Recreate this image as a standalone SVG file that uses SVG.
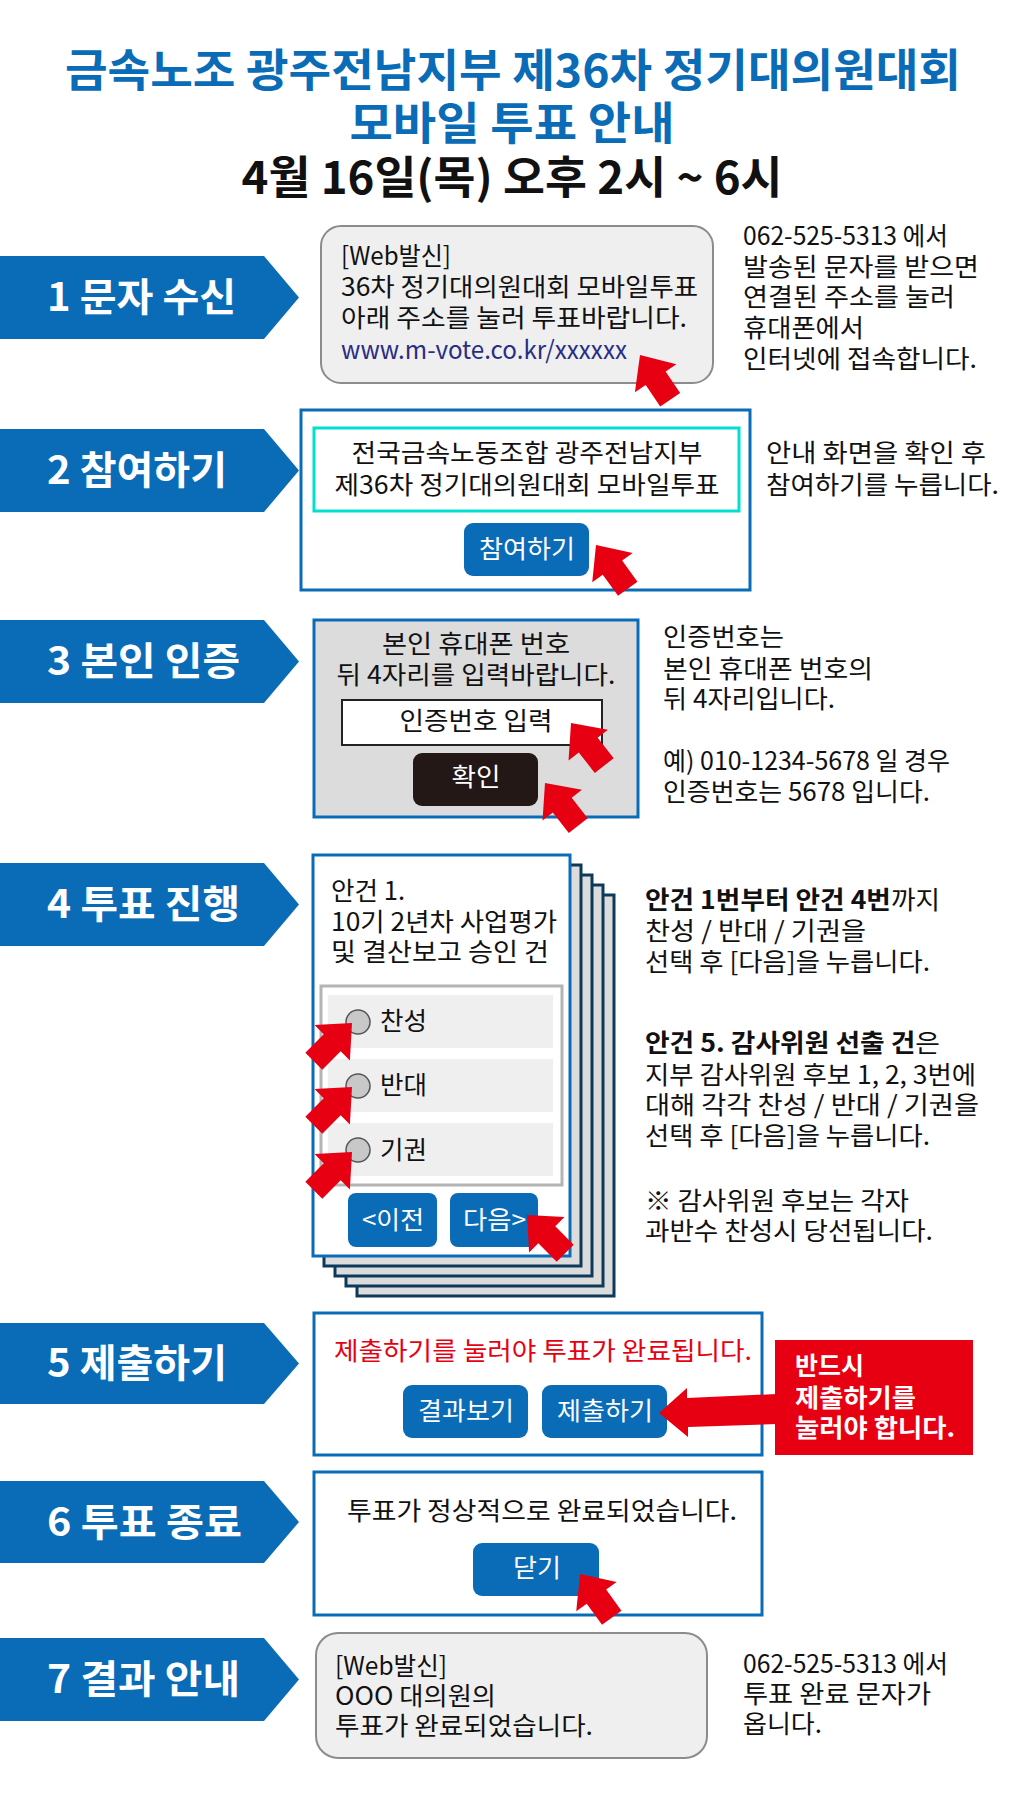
<svg xmlns="http://www.w3.org/2000/svg" width="1024" height="1805" viewBox="0 0 1024 1805">
<style>
text{font-family:"Noto Sans CJK KR","Noto Sans",sans-serif;}
.title{font-size:45px;font-weight:700;text-anchor:middle;}
.lbl{font-size:39px;font-weight:700;fill:#ffffff;}
.tab{fill:#0a6cb6;}
.b{font-size:25px;fill:#111111;}
.c{text-anchor:middle;}
.w{fill:#ffffff;}
.bold{font-weight:700;}
.frame{fill:#ffffff;stroke:#0a6cb6;stroke-width:3;}
.bubble{fill:#efefef;stroke:#8c8c8c;stroke-width:2;}
.btn{fill:#0a6cb6;}
.back{fill:#dcdcdc;stroke:#0d3a5a;stroke-width:3;}
.row{fill:#efefef;}
.radio{fill:#c8c8c8;stroke:#555555;stroke-width:1.5;}
.red{fill:#e60012;}
</style>
<defs>
<polygon id="ptr" points="0,0 25,28 12,28 12,54 -12,54 -12,28 -25,28" fill="#e60012"/>
</defs>
<rect width="1024" height="1805" fill="#ffffff"/>

<g id="title">
<text class="title" x="513" y="87" fill="#0a6cb6" textLength="896" lengthAdjust="spacingAndGlyphs">금속노조 광주전남지부 제36차 정기대의원대회</text>
<text class="title" x="512" y="140" fill="#0a6cb6" textLength="325" lengthAdjust="spacingAndGlyphs">모바일 투표 안내</text>
<text class="title" x="512" y="194" fill="#111111" textLength="541" lengthAdjust="spacingAndGlyphs">4월 16일(목) 오후 2시 ~ 6시</text>
</g>

<g id="step1">
<polygon class="tab" points="0,256 264,256 299,297.5 264,339 0,339"/>
<text class="lbl" x="47" y="311" textLength="189" lengthAdjust="spacingAndGlyphs">1 문자 수신</text>
<rect class="bubble" x="321" y="226" width="392" height="157" rx="20"/>
<text class="b" x="341" y="265" textLength="110" lengthAdjust="spacingAndGlyphs">[Web발신]</text>
<text class="b" x="341" y="296" textLength="357" lengthAdjust="spacingAndGlyphs">36차 정기대의원대회 모바일투표</text>
<text class="b" x="341" y="327" textLength="346" lengthAdjust="spacingAndGlyphs">아래 주소를 눌러 투표바랍니다.</text>
<text class="b" x="341" y="359" style="fill:#2a2d84" textLength="286" lengthAdjust="spacingAndGlyphs">www.m-vote.co.kr/xxxxxx</text>
<text class="b" x="743" y="245" textLength="205" lengthAdjust="spacingAndGlyphs">062-525-5313 에서</text>
<text class="b" x="743" y="276" textLength="236" lengthAdjust="spacingAndGlyphs">발송된 문자를 받으면</text>
<text class="b" x="743" y="306" textLength="212" lengthAdjust="spacingAndGlyphs">연결된 주소를 눌러</text>
<text class="b" x="743" y="337" textLength="121" lengthAdjust="spacingAndGlyphs">휴대폰에서</text>
<text class="b" x="743" y="368" textLength="234" lengthAdjust="spacingAndGlyphs">인터넷에 접속합니다.</text>
</g>

<g id="step2">
<polygon class="tab" points="0,429 264,429 299,470.5 264,512 0,512"/>
<text class="lbl" x="47" y="484" textLength="180" lengthAdjust="spacingAndGlyphs">2 참여하기</text>
<rect class="frame" x="301" y="410" width="449" height="180"/>
<rect x="314" y="428" width="425" height="83" fill="#ffffff" stroke="#00e0d0" stroke-width="3"/>
<text class="b c" x="527" y="462" textLength="351" lengthAdjust="spacingAndGlyphs">전국금속노동조합 광주전남지부</text>
<text class="b c" x="527" y="494" textLength="385" lengthAdjust="spacingAndGlyphs">제36차 정기대의원대회 모바일투표</text>
<rect class="btn" x="464" y="523" width="125" height="53" rx="9"/>
<text class="b c w" x="527" y="558" textLength="96" lengthAdjust="spacingAndGlyphs">참여하기</text>
<text class="b" x="766" y="462" textLength="220" lengthAdjust="spacingAndGlyphs">안내 화면을 확인 후</text>
<text class="b" x="766" y="494" textLength="233" lengthAdjust="spacingAndGlyphs">참여하기를 누릅니다.</text>
</g>

<g id="step3">
<polygon class="tab" points="0,620 264,620 299,661.5 264,703 0,703"/>
<text class="lbl" x="47" y="675" textLength="193" lengthAdjust="spacingAndGlyphs">3 본인 인증</text>
<rect x="314" y="620" width="324" height="197" fill="#dcdcdc" stroke="#0a6cb6" stroke-width="3"/>
<text class="b c" x="476" y="653" textLength="188" lengthAdjust="spacingAndGlyphs">본인 휴대폰 번호</text>
<text class="b c" x="476" y="684" textLength="279" lengthAdjust="spacingAndGlyphs">뒤 4자리를 입력바랍니다.</text>
<rect x="342" y="700" width="260" height="45" fill="#ffffff" stroke="#222222" stroke-width="2"/>
<text class="b c" x="476" y="730" textLength="153" lengthAdjust="spacingAndGlyphs">인증번호 입력</text>
<rect x="413" y="753" width="125" height="53" rx="9" fill="#231815"/>
<text class="b c w" x="476" y="786" textLength="49" lengthAdjust="spacingAndGlyphs">확인</text>
<text class="b" x="663" y="646" textLength="121" lengthAdjust="spacingAndGlyphs">인증번호는</text>
<text class="b" x="663" y="678" textLength="210" lengthAdjust="spacingAndGlyphs">본인 휴대폰 번호의</text>
<text class="b" x="663" y="708" textLength="172" lengthAdjust="spacingAndGlyphs">뒤 4자리입니다.</text>
<text class="b" x="663" y="770" textLength="287" lengthAdjust="spacingAndGlyphs">예) 010-1234-5678 일 경우</text>
<text class="b" x="663" y="801" textLength="267" lengthAdjust="spacingAndGlyphs">인증번호는 5678 입니다.</text>
</g>

<g id="step4">
<polygon class="tab" points="0,863 264,863 299,904.5 264,946 0,946"/>
<text class="lbl" x="47" y="918" textLength="193" lengthAdjust="spacingAndGlyphs">4 투표 진행</text>
<rect class="back" x="357" y="895" width="257" height="401"/>
<rect class="back" x="346" y="885" width="257" height="401"/>
<rect class="back" x="335" y="875" width="257" height="401"/>
<rect class="back" x="324" y="865" width="257" height="401"/>
<rect class="frame" x="313" y="855" width="257" height="401"/>
<text class="b" x="331" y="900" textLength="74" lengthAdjust="spacingAndGlyphs">안건 1.</text>
<text class="b" x="331" y="931" textLength="226" lengthAdjust="spacingAndGlyphs">10기 2년차 사업평가</text>
<text class="b" x="331" y="961" textLength="218" lengthAdjust="spacingAndGlyphs">및 결산보고 승인 건</text>
<rect x="321" y="986" width="241" height="199" fill="#ffffff" stroke="#b4b4b4" stroke-width="3"/>
<rect class="row" x="328" y="995" width="225" height="53"/>
<rect class="row" x="328" y="1059" width="225" height="53"/>
<rect class="row" x="328" y="1123" width="225" height="53"/>
<circle class="radio" cx="358" cy="1022" r="12"/>
<circle class="radio" cx="358" cy="1086" r="12"/>
<circle class="radio" cx="358" cy="1150" r="12"/>
<text class="b" x="380" y="1030" textLength="47" lengthAdjust="spacingAndGlyphs">찬성</text>
<text class="b" x="380" y="1094" textLength="47" lengthAdjust="spacingAndGlyphs">반대</text>
<text class="b" x="380" y="1159" textLength="47" lengthAdjust="spacingAndGlyphs">기권</text>
<rect class="btn" x="348" y="1193" width="89" height="54" rx="8"/>
<rect class="btn" x="450" y="1193" width="88" height="54" rx="8"/>
<text class="b c w" x="393" y="1229" textLength="62" lengthAdjust="spacingAndGlyphs">&lt;이전</text>
<text class="b c w" x="494.5" y="1229" textLength="63" lengthAdjust="spacingAndGlyphs">다음&gt;</text>
<text class="b" x="645" y="909" textLength="295" lengthAdjust="spacingAndGlyphs"><tspan class="bold">안건 1번부터 안건 4번</tspan>까지</text>
<text class="b" x="645" y="940" textLength="221" lengthAdjust="spacingAndGlyphs">찬성 / 반대 / 기권을</text>
<text class="b" x="645" y="971" textLength="285" lengthAdjust="spacingAndGlyphs">선택 후 [다음]을 누릅니다.</text>
<text class="b" x="645" y="1052" textLength="295" lengthAdjust="spacingAndGlyphs"><tspan class="bold">안건 5. 감사위원 선출 건</tspan>은</text>
<text class="b" x="645" y="1084" textLength="331" lengthAdjust="spacingAndGlyphs">지부 감사위원 후보 1, 2, 3번에</text>
<text class="b" x="645" y="1114" textLength="334" lengthAdjust="spacingAndGlyphs">대해 각각 찬성 / 반대 / 기권을</text>
<text class="b" x="645" y="1145" textLength="285" lengthAdjust="spacingAndGlyphs">선택 후 [다음]을 누릅니다.</text>
<text class="b" x="645" y="1210" textLength="264" lengthAdjust="spacingAndGlyphs">※ 감사위원 후보는 각자</text>
<text class="b" x="645" y="1240" textLength="288" lengthAdjust="spacingAndGlyphs">과반수 찬성시 당선됩니다.</text>
</g>

<g id="step5">
<polygon class="tab" points="0,1323 264,1323 299,1363.5 264,1404 0,1404"/>
<text class="lbl" x="47" y="1377" textLength="180" lengthAdjust="spacingAndGlyphs">5 제출하기</text>
<rect class="frame" x="314" y="1313" width="448" height="142"/>
<text class="b c" x="543" y="1360" style="fill:#e60012" textLength="418" lengthAdjust="spacingAndGlyphs">제출하기를 눌러야 투표가 완료됩니다.</text>
<rect class="btn" x="403" y="1385" width="125" height="53" rx="9"/>
<rect class="btn" x="542" y="1385" width="125" height="53" rx="9"/>
<text class="b c w" x="466" y="1420" textLength="96" lengthAdjust="spacingAndGlyphs">결과보기</text>
<text class="b c w" x="605" y="1420" textLength="96" lengthAdjust="spacingAndGlyphs">제출하기</text>
</g>

<g id="note5">
<rect class="red" x="775" y="1340" width="198" height="115"/>
<text class="b w bold" x="795" y="1375" textLength="69" lengthAdjust="spacingAndGlyphs">반드시</text>
<text class="b w bold" x="795" y="1407" textLength="121" lengthAdjust="spacingAndGlyphs">제출하기를</text>
<text class="b w bold" x="795" y="1437" textLength="160" lengthAdjust="spacingAndGlyphs">눌러야 합니다.</text>
</g>

<g id="step6">
<polygon class="tab" points="0,1481 264,1481 299,1522 264,1563 0,1563"/>
<text class="lbl" x="47" y="1536" textLength="195" lengthAdjust="spacingAndGlyphs">6 투표 종료</text>
<rect class="frame" x="314" y="1472" width="448" height="143"/>
<text class="b c" x="542" y="1520" textLength="390" lengthAdjust="spacingAndGlyphs">투표가 정상적으로 완료되었습니다.</text>
<rect class="btn" x="473" y="1543" width="126" height="53" rx="9"/>
<text class="b c w" x="537" y="1577" textLength="48" lengthAdjust="spacingAndGlyphs">닫기</text>
</g>

<g id="step7">
<polygon class="tab" points="0,1638 264,1638 299,1679.5 264,1721 0,1721"/>
<text class="lbl" x="47" y="1693" textLength="193" lengthAdjust="spacingAndGlyphs">7 결과 안내</text>
<rect class="bubble" x="316" y="1633" width="391" height="125" rx="22"/>
<text class="b" x="335" y="1675" textLength="112" lengthAdjust="spacingAndGlyphs">[Web발신]</text>
<text class="b" x="335" y="1705" textLength="161" lengthAdjust="spacingAndGlyphs">OOO 대의원의</text>
<text class="b" x="335" y="1735" textLength="258" lengthAdjust="spacingAndGlyphs">투표가 완료되었습니다.</text>
<text class="b" x="743" y="1673" textLength="205" lengthAdjust="spacingAndGlyphs">062-525-5313 에서</text>
<text class="b" x="743" y="1703" textLength="188" lengthAdjust="spacingAndGlyphs">투표 완료 문자가</text>
<text class="b" x="743" y="1733" textLength="79" lengthAdjust="spacingAndGlyphs">옵니다.</text>
</g>

<g id="connectors">
<use href="#ptr" transform="translate(640,355) rotate(-34)"/>
<use href="#ptr" transform="translate(596,545) rotate(-36)"/>
<use href="#ptr" transform="translate(571,723) rotate(-38)"/>
<use href="#ptr" transform="translate(545,783) rotate(-38)"/>
<use href="#ptr" transform="translate(352,1023) rotate(45)"/>
<use href="#ptr" transform="translate(352,1087) rotate(45)"/>
<use href="#ptr" transform="translate(352,1152) rotate(45)"/>
<use href="#ptr" transform="translate(527,1215) rotate(-45)"/>
<polygon class="red" points="659,1413 687,1388 687,1398 777,1394 777,1424 688,1427 688,1437"/>
<use href="#ptr" transform="translate(580,1574) rotate(-36)"/>
</g>
</svg>
